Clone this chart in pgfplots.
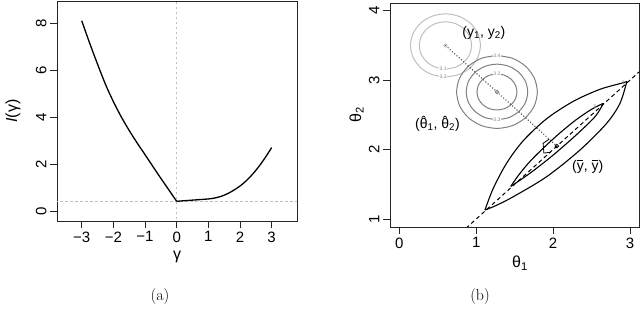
\documentclass[border=0pt]{standalone}
\usepackage{pgfplots}
\pgfplotsset{compat=1.18}
\usepackage{fontspec}
\newfontfamily\hv{Liberation Sans}
\newcommand\hth[1]{\accent"02C6 θ\textsubscript{#1}}
\newcommand\yb{\leavevmode\ooalign{y\cr\hidewidth\rule[0.68em]{0.42em}{0.06em}\hidewidth\cr}}
\definecolor{lgray}{gray}{0.75}
\definecolor{dgray}{gray}{0.5}
\begin{document}
\begin{tikzpicture}
\pgfplotsset{
  rstyle/.style={
    scale only axis,
    axis line style={line width=0.8pt, black!85},
    tick align=outside, major tick length=7pt,
    xtick pos=bottom, ytick pos=left,
    tick style={black!85, line width=0.8pt},
    every tick label/.append style={font=\hv\fontsize{15}{15}\selectfont},
    yticklabel style={rotate=90, anchor=south},
    clip=true,
  }
}
% ---------- (a) ----------
\begin{axis}[rstyle, at={(57pt,97pt)}, anchor=south west, width=240pt, height=220pt,
  xmin=-3.78, xmax=3.8, ymin=-0.43, ymax=8.95,
  xtick={-3,-2,-1,0,1,2,3}, xticklabels={−3,−2,−1,0,1,2,3},
  ytick={0,2,4,6,8}, yticklabels={0,2,4,6,8}]
\addplot[lgray, line width=0.8pt, dash pattern=on 2.5pt off 2.5pt] coordinates {(0,-1) (0,10)};
\addplot[lgray, line width=0.8pt, dash pattern=on 2.5pt off 2.5pt] coordinates {(-4,0.41) (4,0.41)};
\addplot[black, line width=1.3pt, smooth] coordinates {
(-3.0,8.11) (-2.75,7.16) (-2.5,6.26) (-2.25,5.40) (-2.0,4.66) (-1.75,4.01)
(-1.5,3.43) (-1.25,2.90) (-1.0,2.40) (-0.75,1.89) (-0.5,1.39) (-0.25,0.90) (0,0.41)};
\addplot[black, line width=1.3pt, smooth] coordinates {
(0,0.41) (0.5,0.46) (1.0,0.51) (1.2,0.55) (1.4,0.62) (1.6,0.73) (1.8,0.88)
(2.0,1.06) (2.2,1.29) (2.4,1.57) (2.6,1.90) (2.8,2.28) (3.0,2.70)};
\end{axis}
% ---------- (b) ----------
\begin{axis}[rstyle, at={(390pt,91pt)}, anchor=south west, width=249pt, height=224pt,
  xmin=-0.121, xmax=3.117, ymin=0.885, ymax=4.111,
  xtick={0,1,2,3}, xticklabels={0,1,2,3},
  ytick={1,2,3,4}, yticklabels={1,2,3,4}]
% light contours around (y1,y2)
\addplot[lgray, line width=1pt, smooth] coordinates {
(0.600,3.160) (0.730,3.186) (0.840,3.260) (0.914,3.370) (0.940,3.500) (0.914,3.630)
(0.840,3.740) (0.730,3.814) (0.600,3.840) (0.470,3.814) (0.360,3.740) (0.286,3.630)
(0.260,3.500) (0.286,3.370) (0.360,3.260) (0.470,3.186) (0.600,3.160)};
\addplot[lgray, line width=1pt, smooth] coordinates {
(0.600,3.045) (0.774,3.080) (0.922,3.178) (1.020,3.326) (1.055,3.500) (1.020,3.674)
(0.922,3.822) (0.774,3.920) (0.600,3.955) (0.426,3.920) (0.278,3.822) (0.180,3.674)
(0.145,3.500) (0.180,3.326) (0.278,3.178) (0.426,3.080) (0.600,3.045)};
% dark contours around theta hat
\addplot[dgray, line width=1pt, smooth] coordinates {
(1.270,3.090) (1.170,3.070) (1.086,3.014) (1.030,2.930) (1.010,2.830) (1.030,2.730)
(1.086,2.646) (1.170,2.590) (1.270,2.570) (1.370,2.590) (1.454,2.646) (1.510,2.730)
(1.530,2.830) (1.510,2.930) (1.454,3.014) (1.370,3.070) (1.270,3.090)};
\addplot[dgray, line width=1pt, smooth] coordinates {
(1.270,2.430) (1.423,2.460) (1.553,2.547) (1.640,2.677) (1.670,2.830) (1.640,2.983)
(1.553,3.113) (1.423,3.200) (1.270,3.230) (1.117,3.200) (0.987,3.113) (0.900,2.983)
(0.870,2.830) (0.900,2.677) (0.987,2.547) (1.117,2.460) (1.270,2.430)};
\addplot[dgray, line width=1pt, smooth] coordinates {
(1.270,3.355) (1.069,3.315) (0.899,3.201) (0.785,3.031) (0.745,2.830) (0.785,2.629)
(0.899,2.459) (1.069,2.345) (1.270,2.305) (1.471,2.345) (1.641,2.459) (1.755,2.629)
(1.795,2.830) (1.755,3.031) (1.641,3.201) (1.471,3.315) (1.270,3.355)};
% contour labels
\begin{scope}[every node/.style={font=\hv\fontsize{5}{5}\selectfont, text=gray, fill=white, inner sep=0.6pt}]
\node at (axis cs:0.57,3.165) {3.1};
\node at (axis cs:0.57,3.05) {3.2};
\node at (axis cs:1.27,3.355) {3.4};
\node at (axis cs:1.27,3.09) {3.2};
\node at (axis cs:1.27,2.43) {3.3};
\end{scope}
% y = x line
\addplot[black, line width=1pt, dash pattern=on 4pt off 3pt] coordinates {(0.8,0.8) (3.2,3.2)};
% projection
\addplot[black!80, line width=1pt, dotted] coordinates {(0.6,3.5) (2.05,2.05)};
\addplot[black, line width=0.8pt] coordinates {(1.95,2.15) (1.87,2.09) (1.88,1.95) (1.96,1.96)};
% lens contours
\addplot[black, line width=1.1pt, smooth] coordinates {
(1.114,1.130) (1.222,1.442) (1.397,1.807) (1.612,2.128) (1.917,2.445)
(2.263,2.695) (2.610,2.868) (2.913,2.963) (2.96,2.985)};
\addplot[black, line width=1.1pt, smooth] coordinates {
(1.114,1.13) (1.25,1.19) (1.482,1.321) (1.917,1.61) (2.35,1.994) (2.697,2.379)
(2.87,2.667) (2.96,2.985)};
\addplot[black, line width=1.1pt, smooth] coordinates {
(1.45,1.47) (1.55,1.63) (1.70,1.83) (1.90,2.05) (2.10,2.25) (2.30,2.43) (2.50,2.58) (2.653,2.667)};
\addplot[black, line width=1.1pt, smooth] coordinates {
(1.45,1.47) (1.70,1.66) (2.00,1.92) (2.30,2.21) (2.55,2.48) (2.653,2.667)};
\begin{scope}[every node/.style={font=\hv\fontsize{5}{5}\selectfont, text=gray, inner sep=0pt}]
\node at (axis cs:2.91,2.965) {8};
\node at (axis cs:2.545,2.62) {6};
\end{scope}
% points
\addplot[only marks, mark=o, mark size=1.8pt, lgray, mark options={line width=0.8pt}] coordinates {(0.6,3.5)};
\addplot[only marks, mark=o, mark size=1.8pt, dgray, mark options={line width=0.8pt}] coordinates {(1.27,2.83)};
\addplot[only marks, mark=o, mark size=1.8pt, black, mark options={line width=0.8pt}] coordinates {(2.05,2.05)};
% annotations
\begin{scope}[every node/.style={font=\hv\fontsize{14}{14}\selectfont, inner sep=0pt}]
\node at (axis cs:1.10,3.68) {(y\textsubscript{1}, y\textsubscript{2})};
\node at (axis cs:0.497,2.37) {(\hth{1}, \hth{2})};
\node at (axis cs:2.45,1.753) {(\yb, \yb)};
\end{scope}
\end{axis}
% axis labels and captions
\begin{scope}[every node/.style={font=\hv\fontsize{16}{16}\selectfont, inner sep=0pt}]
\node at (177pt,61pt) {γ};
\node[rotate=90] at (13pt,207pt) {\textit{I}(γ)};
\node at (520pt,55pt) {θ\textsubscript{1}};
\node[rotate=90] at (356.5pt,203pt) {θ\textsubscript{2}};
\end{scope}
\node[font=\fontsize{16}{16}\selectfont, inner sep=0pt] at (160pt,21pt) {(a)};
\node[font=\fontsize{16}{16}\selectfont, inner sep=0pt] at (480pt,21pt) {(b)};
\pgfresetboundingbox
\path (0pt,0pt) rectangle (640pt,318pt);
\end{tikzpicture}
\end{document}
